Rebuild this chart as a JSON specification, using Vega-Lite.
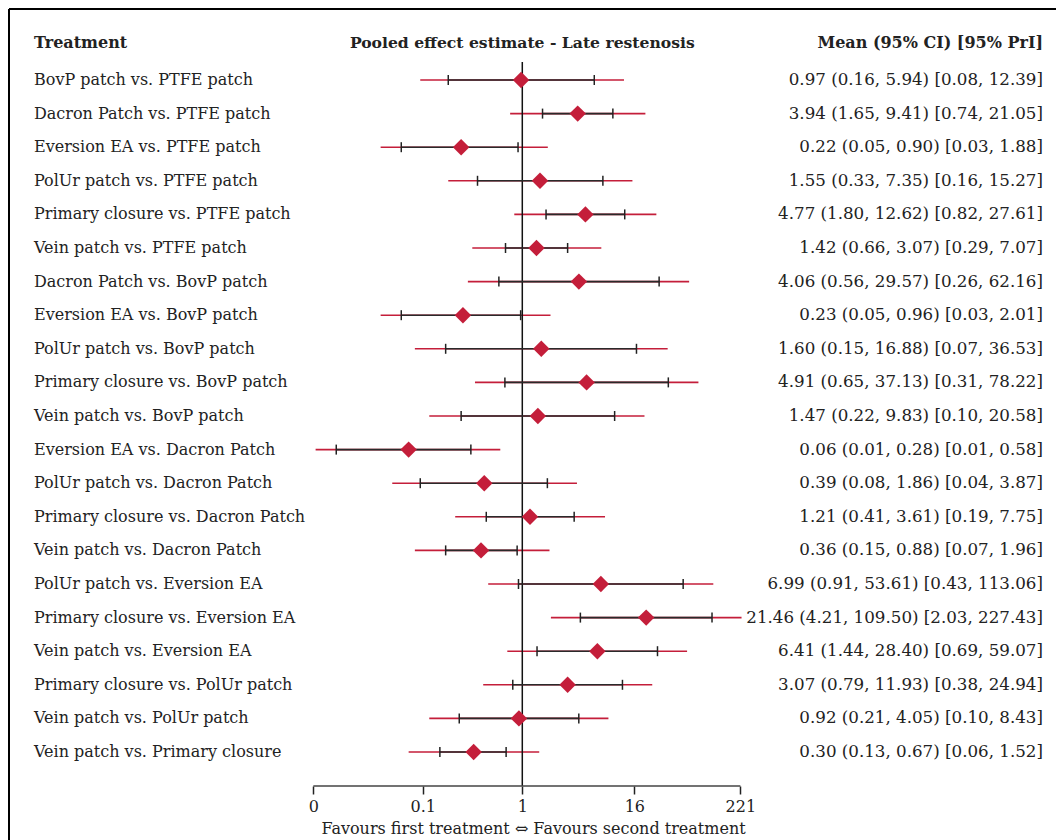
{
  "$schema": "https://vega.github.io/schema/vega-lite/v6.json",
  "width": 1047,
  "height": 777,
  "autosize": {"type": "none"},
  "padding": {"left": 9, "top": 9, "right": 0, "bottom": 54},
  "background": "white",
  "config": {
    "view": {"stroke": null},
    "font": "DejaVu Serif",
    "axisX": {
      "labelExpr": "datum.value < 0.01 ? '0' : datum.value < 0.5 ? '0.1' : format(datum.value, 'd')",
      "domain": false, "grid": false, "ticks": true, "tickSize": 8, "tickWidth": 1.5, "tickColor": "#222222",
      "labelFont": "DejaVu Serif", "labelFontSize": 16, "labelColor": "#222222", "labelPadding": 4,
      "labelFlush": false, "labelOverlap": false,
      "titleFont": "DejaVu Serif", "titleFontSize": 16, "titleFontWeight": "normal", "titleColor": "#222222",
      "titlePadding": 6, "titleX": 524
    }
  },
  "data": {"values": [
    {"r": 1, "t": "BovP patch vs. PTFE patch", "m": 0.97, "lo": 0.16, "hi": 5.94, "plo": 0.08, "phi": 12.39, "s": "0.97 (0.16, 5.94) [0.08, 12.39]"},
    {"r": 2, "t": "Dacron Patch vs. PTFE patch", "m": 3.94, "lo": 1.65, "hi": 9.41, "plo": 0.74, "phi": 21.05, "s": "3.94 (1.65, 9.41) [0.74, 21.05]"},
    {"r": 3, "t": "Eversion EA vs. PTFE patch", "m": 0.22, "lo": 0.05, "hi": 0.90, "plo": 0.03, "phi": 1.88, "s": "0.22 (0.05, 0.90) [0.03, 1.88]"},
    {"r": 4, "t": "PolUr patch vs. PTFE patch", "m": 1.55, "lo": 0.33, "hi": 7.35, "plo": 0.16, "phi": 15.27, "s": "1.55 (0.33, 7.35) [0.16, 15.27]"},
    {"r": 5, "t": "Primary closure vs. PTFE patch", "m": 4.77, "lo": 1.80, "hi": 12.62, "plo": 0.82, "phi": 27.61, "s": "4.77 (1.80, 12.62) [0.82, 27.61]"},
    {"r": 6, "t": "Vein patch vs. PTFE patch", "m": 1.42, "lo": 0.66, "hi": 3.07, "plo": 0.29, "phi": 7.07, "s": "1.42 (0.66, 3.07) [0.29, 7.07]"},
    {"r": 7, "t": "Dacron Patch vs. BovP patch", "m": 4.06, "lo": 0.56, "hi": 29.57, "plo": 0.26, "phi": 62.16, "s": "4.06 (0.56, 29.57) [0.26, 62.16]"},
    {"r": 8, "t": "Eversion EA vs. BovP patch", "m": 0.23, "lo": 0.05, "hi": 0.96, "plo": 0.03, "phi": 2.01, "s": "0.23 (0.05, 0.96) [0.03, 2.01]"},
    {"r": 9, "t": "PolUr patch vs. BovP patch", "m": 1.60, "lo": 0.15, "hi": 16.88, "plo": 0.07, "phi": 36.53, "s": "1.60 (0.15, 16.88) [0.07, 36.53]"},
    {"r": 10, "t": "Primary closure vs. BovP patch", "m": 4.91, "lo": 0.65, "hi": 37.13, "plo": 0.31, "phi": 78.22, "s": "4.91 (0.65, 37.13) [0.31, 78.22]"},
    {"r": 11, "t": "Vein patch vs. BovP patch", "m": 1.47, "lo": 0.22, "hi": 9.83, "plo": 0.10, "phi": 20.58, "s": "1.47 (0.22, 9.83) [0.10, 20.58]"},
    {"r": 12, "t": "Eversion EA vs. Dacron Patch", "m": 0.06, "lo": 0.01, "hi": 0.28, "plo": 0.006, "phi": 0.58, "s": "0.06 (0.01, 0.28) [0.01, 0.58]"},
    {"r": 13, "t": "PolUr patch vs. Dacron Patch", "m": 0.39, "lo": 0.08, "hi": 1.86, "plo": 0.04, "phi": 3.87, "s": "0.39 (0.08, 1.86) [0.04, 3.87]"},
    {"r": 14, "t": "Primary closure vs. Dacron Patch", "m": 1.21, "lo": 0.41, "hi": 3.61, "plo": 0.19, "phi": 7.75, "s": "1.21 (0.41, 3.61) [0.19, 7.75]"},
    {"r": 15, "t": "Vein patch vs. Dacron Patch", "m": 0.36, "lo": 0.15, "hi": 0.88, "plo": 0.07, "phi": 1.96, "s": "0.36 (0.15, 0.88) [0.07, 1.96]"},
    {"r": 16, "t": "PolUr patch vs. Eversion EA", "m": 6.99, "lo": 0.91, "hi": 53.61, "plo": 0.43, "phi": 113.06, "s": "6.99 (0.91, 53.61) [0.43, 113.06]"},
    {"r": 17, "t": "Primary closure vs. Eversion EA", "m": 21.46, "lo": 4.21, "hi": 109.50, "plo": 2.03, "phi": 227.43, "s": "21.46 (4.21, 109.50) [2.03, 227.43]"},
    {"r": 18, "t": "Vein patch vs. Eversion EA", "m": 6.41, "lo": 1.44, "hi": 28.40, "plo": 0.69, "phi": 59.07, "s": "6.41 (1.44, 28.40) [0.69, 59.07]"},
    {"r": 19, "t": "Primary closure vs. PolUr patch", "m": 3.07, "lo": 0.79, "hi": 11.93, "plo": 0.38, "phi": 24.94, "s": "3.07 (0.79, 11.93) [0.38, 24.94]"},
    {"r": 20, "t": "Vein patch vs. PolUr patch", "m": 0.92, "lo": 0.21, "hi": 4.05, "plo": 0.10, "phi": 8.43, "s": "0.92 (0.21, 4.05) [0.10, 8.43]"},
    {"r": 21, "t": "Vein patch vs. Primary closure", "m": 0.30, "lo": 0.13, "hi": 0.67, "plo": 0.06, "phi": 1.52, "s": "0.30 (0.13, 0.67) [0.06, 1.52]"}
  ]},
  "layer": [
    {
      "mark": {"type": "rule", "stroke": "#C41E3A", "strokeWidth": 1.6},
      "encoding": {
        "x": {"field": "plo", "type": "quantitative", "title": "Favours first treatment ⇔ Favours second treatment", "scale": {"type": "log", "domain": [3.0345e-6, 546030], "nice": false}, "axis": {"values": [0.00567, 0.085, 1, 16, 221]}},
        "x2": {"field": "phi"},
        "y": {"field": "r", "type": "quantitative", "scale": {"domain": [-1.1131, 22.012], "reverse": true, "nice": false, "zero": false}, "axis": null}
      }
    },
    {
      "data": {"values": [{}]},
      "mark": {"type": "rule", "stroke": "#000000", "strokeWidth": 2},
      "encoding": {
        "x": {"datum": 3.0345e-6, "type": "quantitative", "title": "Favours first treatment ⇔ Favours second treatment", "scale": {"type": "log", "domain": [3.0345e-6, 546030], "nice": false}, "axis": {"values": [0.00567, 0.085, 1, 16, 221]}},
        "y": {"datum": -1.1131, "type": "quantitative", "scale": {"domain": [-1.1131, 22.012], "reverse": true, "nice": false, "zero": false}, "axis": null},
        "y2": {"datum": 23.619}
      }
    },
    {
      "data": {"values": [{}]},
      "mark": {"type": "rule", "stroke": "#000000", "strokeWidth": 2},
      "encoding": {
        "x": {"datum": 3.0345e-6, "type": "quantitative", "title": "Favours first treatment ⇔ Favours second treatment", "scale": {"type": "log", "domain": [3.0345e-6, 546030], "nice": false}, "axis": {"values": [0.00567, 0.085, 1, 16, 221]}},
        "x2": {"datum": 546030},
        "y": {"datum": -1.1131, "type": "quantitative", "scale": {"domain": [-1.1131, 22.012], "reverse": true, "nice": false, "zero": false}, "axis": null}
      }
    },
    {
      "data": {"values": [{}]},
      "mark": {"type": "rule", "stroke": "#111111", "strokeWidth": 1.5},
      "encoding": {
        "x": {"datum": 1, "type": "quantitative", "title": "Favours first treatment ⇔ Favours second treatment", "scale": {"type": "log", "domain": [3.0345e-6, 546030], "nice": false}, "axis": {"values": [0.00567, 0.085, 1, 16, 221]}},
        "y": {"datum": 0.4643, "type": "quantitative", "scale": {"domain": [-1.1131, 22.012], "reverse": true, "nice": false, "zero": false}, "axis": null},
        "y2": {"datum": 22.012}
      }
    },
    {
      "data": {"values": [{}]},
      "mark": {"type": "rule", "stroke": "#444444", "strokeWidth": 1.5},
      "encoding": {
        "x": {"datum": 0.00567, "type": "quantitative", "title": "Favours first treatment ⇔ Favours second treatment", "scale": {"type": "log", "domain": [3.0345e-6, 546030], "nice": false}, "axis": {"values": [0.00567, 0.085, 1, 16, 221]}},
        "x2": {"datum": 221},
        "y": {"datum": 22.012, "type": "quantitative", "scale": {"domain": [-1.1131, 22.012], "reverse": true, "nice": false, "zero": false}, "axis": null}
      }
    },
    {
      "mark": {"type": "rule", "stroke": "#2a2a2a", "strokeWidth": 1.6},
      "encoding": {
        "x": {"field": "lo", "type": "quantitative", "title": "Favours first treatment ⇔ Favours second treatment", "scale": {"type": "log", "domain": [3.0345e-6, 546030], "nice": false}, "axis": {"values": [0.00567, 0.085, 1, 16, 221]}},
        "x2": {"field": "hi"},
        "y": {"field": "r", "type": "quantitative", "scale": {"domain": [-1.1131, 22.012], "reverse": true, "nice": false, "zero": false}, "axis": null}
      }
    },
    {
      "mark": {"type": "tick", "orient": "vertical", "size": 10, "thickness": 1.5, "color": "#222222", "opacity": 1},
      "encoding": {
        "x": {"field": "lo", "type": "quantitative", "title": "Favours first treatment ⇔ Favours second treatment", "scale": {"type": "log", "domain": [3.0345e-6, 546030], "nice": false}, "axis": {"values": [0.00567, 0.085, 1, 16, 221]}},
        "y": {"field": "r", "type": "quantitative", "scale": {"domain": [-1.1131, 22.012], "reverse": true, "nice": false, "zero": false}, "axis": null}
      }
    },
    {
      "mark": {"type": "tick", "orient": "vertical", "size": 10, "thickness": 1.5, "color": "#222222", "opacity": 1},
      "encoding": {
        "x": {"field": "hi", "type": "quantitative", "title": "Favours first treatment ⇔ Favours second treatment", "scale": {"type": "log", "domain": [3.0345e-6, 546030], "nice": false}, "axis": {"values": [0.00567, 0.085, 1, 16, 221]}},
        "y": {"field": "r", "type": "quantitative", "scale": {"domain": [-1.1131, 22.012], "reverse": true, "nice": false, "zero": false}, "axis": null}
      }
    },
    {
      "mark": {"type": "point", "shape": "diamond", "filled": true, "size": 270, "color": "#C41E3A", "opacity": 1},
      "encoding": {
        "x": {"field": "m", "type": "quantitative", "title": "Favours first treatment ⇔ Favours second treatment", "scale": {"type": "log", "domain": [3.0345e-6, 546030], "nice": false}, "axis": {"values": [0.00567, 0.085, 1, 16, 221]}},
        "y": {"field": "r", "type": "quantitative", "scale": {"domain": [-1.1131, 22.012], "reverse": true, "nice": false, "zero": false}, "axis": null}
      }
    },
    {
      "mark": {"type": "text", "align": "left", "baseline": "middle", "font": "DejaVu Serif", "fontSize": 16, "color": "#222222"},
      "encoding": {
        "x": {"datum": 5.634e-6, "type": "quantitative", "title": "Favours first treatment ⇔ Favours second treatment", "scale": {"type": "log", "domain": [3.0345e-6, 546030], "nice": false}, "axis": {"values": [0.00567, 0.085, 1, 16, 221]}},
        "y": {"field": "r", "type": "quantitative", "scale": {"domain": [-1.1131, 22.012], "reverse": true, "nice": false, "zero": false}, "axis": null},
        "text": {"field": "t"}
      }
    },
    {
      "mark": {"type": "text", "align": "right", "baseline": "middle", "font": "DejaVu Serif", "fontSize": 16.7, "color": "#222222"},
      "encoding": {
        "x": {"datum": 395770, "type": "quantitative", "title": "Favours first treatment ⇔ Favours second treatment", "scale": {"type": "log", "domain": [3.0345e-6, 546030], "nice": false}, "axis": {"values": [0.00567, 0.085, 1, 16, 221]}},
        "y": {"field": "r", "type": "quantitative", "scale": {"domain": [-1.1131, 22.012], "reverse": true, "nice": false, "zero": false}, "axis": null},
        "text": {"field": "s"}
      }
    },
    {
      "data": {"values": [{"h": "Treatment"}]},
      "mark": {"type": "text", "align": "left", "baseline": "middle", "font": "DejaVu Serif", "fontSize": 16, "fontWeight": "bold", "color": "#222222"},
      "encoding": {
        "x": {"datum": 5.634e-6, "type": "quantitative", "title": "Favours first treatment ⇔ Favours second treatment", "scale": {"type": "log", "domain": [3.0345e-6, 546030], "nice": false}, "axis": {"values": [0.00567, 0.085, 1, 16, 221]}},
        "y": {"datum": -0.101, "type": "quantitative", "scale": {"domain": [-1.1131, 22.012], "reverse": true, "nice": false, "zero": false}, "axis": null},
        "text": {"field": "h"}
      }
    },
    {
      "data": {"values": [{"h": "Pooled effect estimate - Late restenosis"}]},
      "mark": {"type": "text", "align": "center", "baseline": "middle", "font": "DejaVu Serif", "fontSize": 15.6, "fontWeight": "bold", "color": "#222222"},
      "encoding": {
        "x": {"datum": 1, "type": "quantitative", "title": "Favours first treatment ⇔ Favours second treatment", "scale": {"type": "log", "domain": [3.0345e-6, 546030], "nice": false}, "axis": {"values": [0.00567, 0.085, 1, 16, 221]}},
        "y": {"datum": -0.101, "type": "quantitative", "scale": {"domain": [-1.1131, 22.012], "reverse": true, "nice": false, "zero": false}, "axis": null},
        "text": {"field": "h"}
      }
    },
    {
      "data": {"values": [{"h": "Mean (95% CI)  [95% PrI]"}]},
      "mark": {"type": "text", "align": "right", "baseline": "middle", "font": "DejaVu Serif", "fontSize": 16, "fontWeight": "bold", "color": "#222222"},
      "encoding": {
        "x": {"datum": 395770, "type": "quantitative", "title": "Favours first treatment ⇔ Favours second treatment", "scale": {"type": "log", "domain": [3.0345e-6, 546030], "nice": false}, "axis": {"values": [0.00567, 0.085, 1, 16, 221]}},
        "y": {"datum": -0.101, "type": "quantitative", "scale": {"domain": [-1.1131, 22.012], "reverse": true, "nice": false, "zero": false}, "axis": null},
        "text": {"field": "h"}
      }
    }
  ]
}
